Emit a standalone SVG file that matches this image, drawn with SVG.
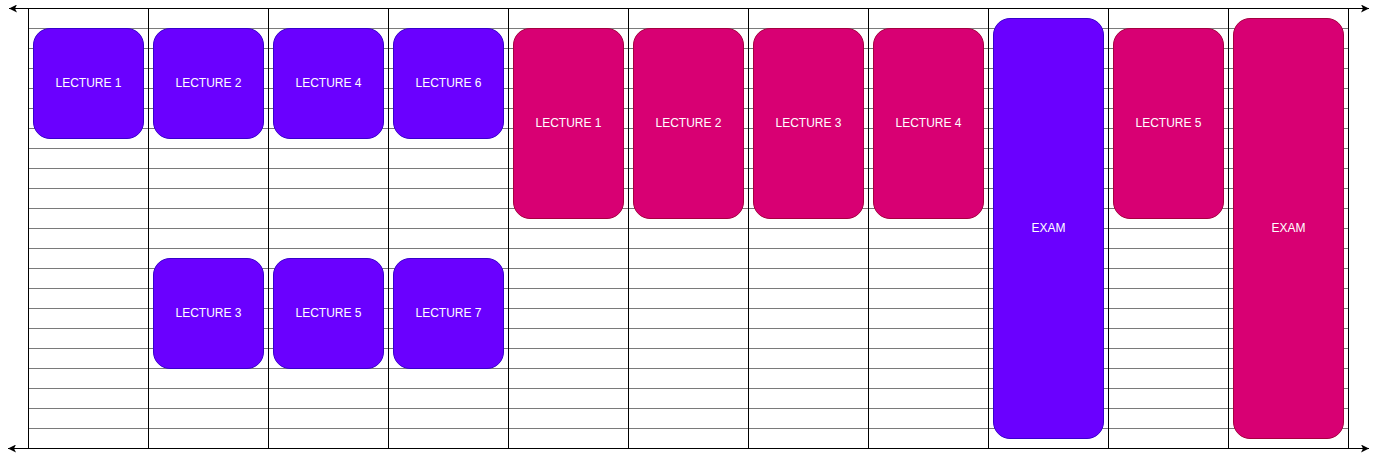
<svg xmlns="http://www.w3.org/2000/svg" width="1379" height="459" viewBox="0 0 1379 459">
<defs>
<marker id="arr" viewBox="0 0 8 8" refX="8" refY="4" markerWidth="8" markerHeight="8" markerUnits="userSpaceOnUse" orient="auto-start-reverse">
<path d="M0,0 L8,4 L0,8 L2,4 Z" fill="#000"/>
</marker>
</defs>
<style>
.h{stroke:#7a7a7a;stroke-width:1;fill:none}
.v{stroke:#000;stroke-width:1;fill:none}
.axis{stroke:#000;stroke-width:1;fill:none;marker-start:url(#arr);marker-end:url(#arr)}
.blue rect{fill:#6a00ff;stroke:#3700cc;stroke-width:1}
.pink rect{fill:#d80073;stroke:#a50040;stroke-width:1}
text{font-family:"Liberation Sans",Arial,Helvetica,sans-serif;font-size:12px;fill:#fff;text-anchor:middle;dominant-baseline:central}
</style>
<rect width="1379" height="459" fill="#fff"/>
<g id="grid">
<path class="h" d="M28,28.5H1348M28,48.5H1348M28,68.5H1348M28,88.5H1348M28,108.5H1348M28,128.5H1348M28,148.5H1348M28,168.5H1348M28,188.5H1348M28,208.5H1348M28,228.5H1348M28,248.5H1348M28,268.5H1348M28,288.5H1348M28,308.5H1348M28,328.5H1348M28,348.5H1348M28,368.5H1348M28,388.5H1348M28,408.5H1348M28,428.5H1348"/>
<path class="v" d="M28.5,8V448M148.5,8V448M268.5,8V448M388.5,8V448M508.5,8V448M628.5,8V448M748.5,8V448M868.5,8V448M988.5,8V448M1108.5,8V448M1228.5,8V448M1348.5,8V448"/>
</g>
<g id="connectors">
<line class="axis" x1="9" y1="8.5" x2="1369" y2="8.5"/>
<line class="axis" x1="8" y1="448.5" x2="1369" y2="448.5"/>
</g>
<g id="b-lecture1" class="blue"><rect x="33.5" y="28.5" width="110" height="110" rx="16.5"/><text x="88.5" y="82.5">LECTURE 1</text></g>
<g id="b-lecture2" class="blue"><rect x="153.5" y="28.5" width="110" height="110" rx="16.5"/><text x="208.5" y="82.5">LECTURE 2</text></g>
<g id="b-lecture4" class="blue"><rect x="273.5" y="28.5" width="110" height="110" rx="16.5"/><text x="328.5" y="82.5">LECTURE 4</text></g>
<g id="b-lecture6" class="blue"><rect x="393.5" y="28.5" width="110" height="110" rx="16.5"/><text x="448.5" y="82.5">LECTURE 6</text></g>
<g id="b-lecture3" class="blue"><rect x="153.5" y="258.5" width="110" height="110" rx="16.5"/><text x="208.5" y="312.5">LECTURE 3</text></g>
<g id="b-lecture5" class="blue"><rect x="273.5" y="258.5" width="110" height="110" rx="16.5"/><text x="328.5" y="312.5">LECTURE 5</text></g>
<g id="b-lecture7" class="blue"><rect x="393.5" y="258.5" width="110" height="110" rx="16.5"/><text x="448.5" y="312.5">LECTURE 7</text></g>
<g id="p-lecture1" class="pink"><rect x="513.5" y="28.5" width="110" height="190" rx="16.5"/><text x="568.5" y="122.5">LECTURE 1</text></g>
<g id="p-lecture2" class="pink"><rect x="633.5" y="28.5" width="110" height="190" rx="16.5"/><text x="688.5" y="122.5">LECTURE 2</text></g>
<g id="p-lecture3" class="pink"><rect x="753.5" y="28.5" width="110" height="190" rx="16.5"/><text x="808.5" y="122.5">LECTURE 3</text></g>
<g id="p-lecture4" class="pink"><rect x="873.5" y="28.5" width="110" height="190" rx="16.5"/><text x="928.5" y="122.5">LECTURE 4</text></g>
<g id="b-exam" class="blue"><rect x="993.5" y="18.5" width="110" height="420" rx="16.5"/><text x="1048.5" y="227.5">EXAM</text></g>
<g id="p-lecture5" class="pink"><rect x="1113.5" y="28.5" width="110" height="190" rx="16.5"/><text x="1168.5" y="122.5">LECTURE 5</text></g>
<g id="p-exam" class="pink"><rect x="1233.5" y="18.5" width="110" height="420" rx="16.5"/><text x="1288.5" y="227.5">EXAM</text></g>
</svg>
